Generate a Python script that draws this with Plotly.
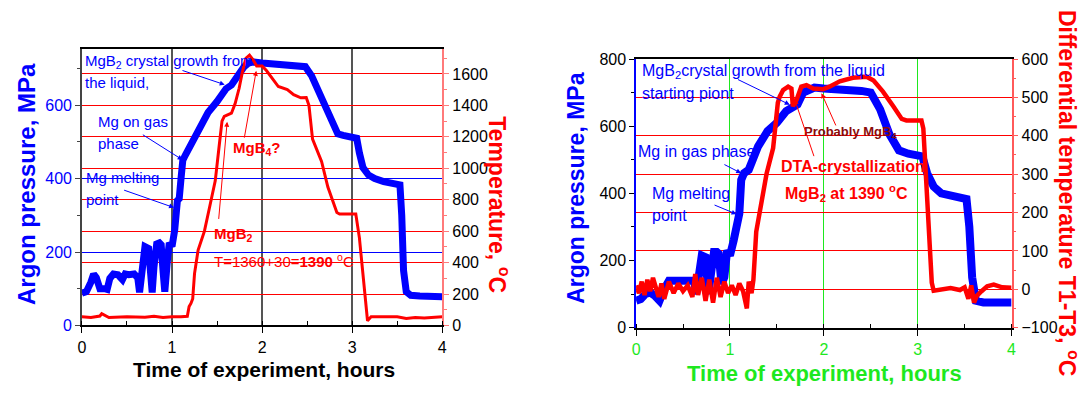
import plotly.graph_objects as go

# ---------------- data ----------------
# Left panel: argon pressure (MPa) and temperature (deg C) vs time (hours)
left_time_p = [0.00, 0.05, 0.10, 0.13, 0.16, 0.20, 0.25, 0.28, 0.31, 0.35, 0.40, 0.45, 0.48, 0.52,
               0.58, 0.62, 0.64, 0.66, 0.68, 0.70, 0.74, 0.76, 0.78, 0.80, 0.83, 0.86, 0.88, 0.90,
               0.92, 0.95, 0.97, 1.00, 1.03, 1.06, 1.08, 1.10, 1.12, 1.15, 1.20, 1.30, 1.40, 1.50,
               1.60, 1.66, 1.70, 1.75, 1.80, 1.85, 1.90, 2.00, 2.20, 2.40, 2.48, 2.55, 2.62, 2.70,
               2.78, 2.84, 2.90, 3.00, 3.05, 3.08, 3.12, 3.18, 3.25, 3.35, 3.45, 3.53, 3.55, 3.57,
               3.60, 3.65, 3.75, 3.90, 4.00]
left_pressure = [88, 92, 118, 140, 130, 100, 100, 98, 128, 140, 138, 125, 140, 138,
                 140, 130, 90, 150, 210, 215, 210, 150, 90, 160, 222, 225, 220, 150,
                 92, 180, 225, 215, 260, 340, 345, 400, 450, 465, 490, 540, 580, 610,
                 645, 655, 670, 690, 705, 715, 718, 715, 712, 710, 705, 680, 640, 590,
                 545, 522, 518, 515, 510, 470, 430, 410, 400, 392, 388, 383, 300, 150,
                 92, 82, 80, 78, 78]

left_time_t = [0.00, 0.10, 0.20, 0.22, 0.30, 0.50, 0.70, 0.80, 0.90, 1.00, 1.10, 1.17, 1.19, 1.21,
               1.23, 1.25, 1.29, 1.36, 1.42, 1.48, 1.52, 1.555, 1.58, 1.63, 1.66, 1.70, 1.745, 1.78,
               1.82, 1.86, 1.90, 1.94, 2.00, 2.05, 2.09, 2.18, 2.28, 2.35, 2.43, 2.49, 2.52, 2.56,
               2.66, 2.73, 2.83, 2.86, 2.95, 3.04, 3.08, 3.12, 3.17, 3.21, 3.30, 3.50, 3.60, 3.70,
               3.80, 4.00]
left_temperature = [55, 50, 60, 75, 50, 55, 52, 58, 50, 55, 55, 58, 120, 140,
                    170, 330, 480, 600, 760, 920, 1124, 1300, 1330, 1345, 1350, 1410, 1509, 1610,
                    1700, 1720, 1690, 1650, 1650, 1620, 1590, 1520, 1500, 1468, 1448, 1450, 1400, 1185,
                    1043, 880, 719, 709, 709, 709, 557, 330, 30, 55, 55, 55, 45, 50,
                    48, 55]

# Right panel: argon pressure (MPa) and differential temperature T1-T3 (deg C)
right_time_p = [0.00, 0.05, 0.10, 0.15, 0.20, 0.25, 0.30, 0.35, 0.45, 0.55, 0.62, 0.64, 0.66, 0.70,
                0.74, 0.77, 0.80, 0.83, 0.86, 0.88, 0.91, 0.94, 0.97, 1.00, 1.04, 1.08, 1.10, 1.12,
                1.15, 1.20, 1.30, 1.40, 1.50, 1.60, 1.68, 1.72, 1.78, 1.85, 1.90, 2.00, 2.20, 2.40,
                2.50, 2.60, 2.70, 2.80, 2.90, 3.00, 3.05, 3.10, 3.17, 3.25, 3.35, 3.45, 3.52, 3.55,
                3.58, 3.62, 3.70, 3.85, 4.00]
right_pressure = [80, 85, 100, 105, 95, 80, 115, 140, 140, 140, 140, 100, 150, 215,
                  210, 100, 165, 225, 225, 220, 130, 150, 230, 215, 260, 330, 340, 440,
                  460, 470, 540, 585, 610, 645, 660, 665, 700, 712, 715, 712, 710, 705,
                  700, 650, 575, 528, 518, 512, 510, 460, 420, 400, 392, 388, 383, 300,
                  150, 80, 75, 75, 75]

right_time_d = [0.00, 0.03, 0.06, 0.09, 0.12, 0.15, 0.18, 0.21, 0.24, 0.27, 0.30, 0.35, 0.40, 0.45,
                0.50, 0.55, 0.60, 0.63, 0.66, 0.70, 0.74, 0.78, 0.82, 0.86, 0.90, 0.94, 0.98, 1.02,
                1.06, 1.10, 1.14, 1.18, 1.20, 1.23, 1.25, 1.28, 1.32, 1.39, 1.46, 1.51, 1.53, 1.566,
                1.62, 1.655, 1.67, 1.71, 1.76, 1.815, 1.886, 1.99, 2.06, 2.17, 2.31, 2.455, 2.53, 2.63,
                2.74, 2.83, 2.88, 3.04, 3.06, 3.10, 3.15, 3.17, 3.25, 3.35, 3.45, 3.50, 3.54, 3.57,
                3.60, 3.63, 3.68, 3.74, 3.81, 3.90, 4.00]
right_dta = [10, -10, 20, -15, 25, -5, 30, 5, -20, 15, -25, 20, -10, 15,
             -5, 10, -20, 40, -15, 30, -30, 25, -35, 30, -20, 20, -10, 10,
             -15, 15, -5, -50, 20, -10, 25, 150, 209, 301, 368, 486, 502, 519,
             528, 523, 477, 494, 528, 532, 523, 521, 528, 542, 551, 554, 544, 515,
             477, 444, 440, 440, 419, 234, 17, -4, 0, 3, -2, 5, -25, 10,
             -35, -17, -5, 8, 12, 5, 4]

x_ticks = [0, 1, 2, 3, 4]
left_p_ticks = [0, 200, 400, 600]
left_t_ticks = [0, 200, 400, 600, 800, 1000, 1200, 1400, 1600]
right_p_ticks = [0, 200, 400, 600, 800]
right_d_ticks = [-100, 0, 100, 200, 300, 400, 500, 600]

# ---------------- styling ----------------
FONT = "Liberation Sans, Arial, sans-serif"
BLUE = "#0000ff"
RED = "#ff0000"
GREEN = "#1ee81e"
MAROON = "#8b0a0a"

fig = go.Figure()
fig.add_trace(go.Scatter(x=left_time_p, y=left_pressure, xaxis="x", yaxis="y", mode="lines",
                         line=dict(color=BLUE, width=7), hoverinfo="skip"))
fig.add_trace(go.Scatter(x=left_time_t, y=left_temperature, xaxis="x", yaxis="y2", mode="lines",
                         line=dict(color=RED, width=3), hoverinfo="skip"))
fig.add_trace(go.Scatter(x=right_time_p, y=right_pressure, xaxis="x2", yaxis="y3", mode="lines",
                         line=dict(color=BLUE, width=8), hoverinfo="skip"))
fig.add_trace(go.Scatter(x=right_time_d, y=right_dta, xaxis="x2", yaxis="y4", mode="lines",
                         line=dict(color=RED, width=4.5), hoverinfo="skip"))

tick_black = dict(family=FONT, size=16, color="black")

fig.update_layout(
    width=1088, height=396, autosize=False,
    margin=dict(l=0, r=0, t=0, b=0),
    paper_bgcolor="white", plot_bgcolor="white",
    showlegend=False,
    font=dict(family=FONT),
    xaxis=dict(domain=[0.0722, 0.4062], range=[0, 4], tickvals=x_ticks, anchor="y",
               showgrid=True, gridcolor="#555555", gridwidth=1.5, zeroline=False,
               showline=True, linecolor="black", linewidth=2, mirror=True,
               ticks="outside", ticklen=6, tickcolor="black", tickfont=tick_black,
               minor=dict(dtick=0.5, ticks="inside", ticklen=4, tickcolor="black", showgrid=False)),
    yaxis=dict(domain=[0.1624, 0.8907], range=[0, 752], tickvals=left_p_ticks, anchor="x",
               showgrid=True, gridcolor=BLUE, gridwidth=1, zeroline=False,
               showline=True, linecolor="#444444", linewidth=1.5,
               ticks="outside", ticklen=5, tickcolor="#444444",
               tickfont=dict(family=FONT, size=16, color=BLUE),
               minor=dict(dtick=100, ticks="outside", ticklen=3, tickcolor="#444444", showgrid=False)),
    yaxis2=dict(overlaying="y", side="right", anchor="x", range=[0, 1756], tickvals=left_t_ticks,
                showgrid=True, gridcolor=RED, gridwidth=1, zeroline=False,
                showline=True, linecolor="#ff7a7a", linewidth=1.5,
                ticks="outside", ticklen=5, tickcolor="#ff7a7a", tickfont=tick_black,
                minor=dict(dtick=100, ticks="outside", ticklen=3, tickcolor="#ff7a7a", showgrid=False)),
    xaxis2=dict(domain=[0.5858, 0.9338], range=[0, 4], tickvals=x_ticks, anchor="y3",
                showgrid=True, gridcolor=GREEN, gridwidth=1, zeroline=False,
                showline=True, linecolor="black", linewidth=2, mirror=True,
                ticks="outside", ticklen=6, tickcolor="black",
                tickfont=dict(family=FONT, size=16, color=GREEN),
                minor=dict(dtick=0.5, ticks="inside", ticklen=4, tickcolor="black", showgrid=False)),
    yaxis3=dict(domain=[0.1566, 0.8654], range=[0, 800], tickvals=right_p_ticks, anchor="x2",
                showgrid=False, zeroline=False,
                showline=True, linecolor=BLUE, linewidth=1.5,
                ticks="outside", ticklen=5, tickcolor="black", tickfont=tick_black,
                minor=dict(dtick=100, ticks="outside", ticklen=3, tickcolor="black", showgrid=False)),
    yaxis4=dict(overlaying="y3", side="right", anchor="x2", range=[-100, 600], tickvals=right_d_ticks,
                showgrid=True, gridcolor=RED, gridwidth=1, zeroline=False,
                showline=True, linecolor="#ff5a5a", linewidth=1.5,
                ticks="outside", ticklen=5, tickcolor="#ff5a5a", tickfont=tick_black,
                minor=dict(dtick=50, ticks="outside", ticklen=3, tickcolor="#ff5a5a", showgrid=False)),
)

ann = []


def text(x, y, s, xref, yref, color, size, bold=False):
    ann.append(dict(x=x, y=y, xref=xref, yref=yref, text=("<b>%s</b>" % s) if bold else s,
                    showarrow=False, xanchor="left", yanchor="middle",
                    font=dict(family=FONT, size=size, color=color)))


def arrow(x, y, ax, ay, xref, yref, color):
    ann.append(dict(x=x, y=y, ax=ax, ay=ay, xref=xref, yref=yref, axref=xref, ayref=yref,
                    text="", showarrow=True, arrowhead=2, arrowsize=1, arrowwidth=1,
                    arrowcolor=color))


# Left panel annotations
text(0.008, 720, "MgB<sub>2</sub> crystal growth from", "x", "y", BLUE, 15)
text(0.008, 661, "the liquid,", "x", "y", BLUE, 15)
arrow(1.585, 656, 1.10, 696, "x", "y", BLUE)
text(0.156, 555, "Mg on gas", "x", "y", BLUE, 15)
text(0.156, 497, "phase", "x", "y", BLUE, 15)
arrow(1.118, 451, 0.66, 522, "x", "y", BLUE)
text(0.023, 403, "Mg melting", "x", "y", BLUE, 15)
text(0.023, 342, "point", "x", "y", BLUE, 15)
arrow(1.023, 321, 0.452, 370, "x", "y", BLUE)
text(1.66, 1124, "MgB<sub>4</sub>?", "x", "y2", RED, 15, bold=True)
arrow(1.935, 1620, 1.80, 1185, "x", "y2", RED)
text(1.44, 581, "MgB<sub>2</sub>", "x", "y2", RED, 15, bold=True)
arrow(1.612, 1296, 1.517, 668, "x", "y2", RED)
text(1.44, 415, "T=1360+30=<b>1390</b> <sup>o</sup>C", "x", "y2", RED, 15)

# Right panel annotations
text(0.046, 762, "MgB<sub>2</sub>crystal growth from the liquid", "x2", "y3", BLUE, 16)
text(0.046, 697, "starting piont", "x2", "y3", BLUE, 16)
arrow(1.637, 664, 1.07, 741, "x2", "y3", BLUE)
text(0.0, 524, "Mg in gas phase", "x2", "y3", BLUE, 16)
arrow(1.12, 460, 0.925, 488, "x2", "y3", BLUE)
text(0.15, 400, "Mg melting", "x2", "y3", BLUE, 16)
text(0.15, 335, "point", "x2", "y3", BLUE, 16)
arrow(1.07, 338, 0.82, 367, "x2", "y3", BLUE)
text(1.77, 408, "Probably MgB<sub>4</sub>", "x2", "y4", MAROON, 13, bold=True)
arrow(1.975, 511, 2.135, 423, "x2", "y4", RED)
text(1.52, 321, "DTA-crystallization", "x2", "y4", RED, 16, bold=True)
arrow(1.69, 494, 1.90, 343, "x2", "y4", RED)
text(1.57, 250, "MgB<sub>2</sub> at 1390 <sup>o</sup>C", "x2", "y4", RED, 16, bold=True)

# Axis titles
def title(x, y, s, color, size, angle):
    ann.append(dict(x=x, y=y, xref="paper", yref="paper", text="<b>%s</b>" % s, showarrow=False,
                    xanchor="center", yanchor="middle", textangle=angle,
                    font=dict(family=FONT, size=size, color=color)))


title(0.0202, 0.535, "Argon pressure, MPa", BLUE, 24, -90)
title(0.4586, 0.480, "Temperature, <sup>o</sup>C", RED, 23, 90)
title(0.2413, 0.045, "Time of experiment, hours", "black", 21, 0)
title(0.5294, 0.526, "Argon pressure, MPa", BLUE, 23, -90)
title(0.9862, 0.5117, "Differential temperature T1-T3, <sup>o</sup>C", RED, 23, 90)
title(0.7606, 0.036, "Time of experiment, hours", GREEN, 22, 0)

fig.update_layout(annotations=ann)

fig.write_html("out.html", include_plotlyjs=True, config={"displayModeBar": False},
               post_script="document.body.style.margin='0';")
